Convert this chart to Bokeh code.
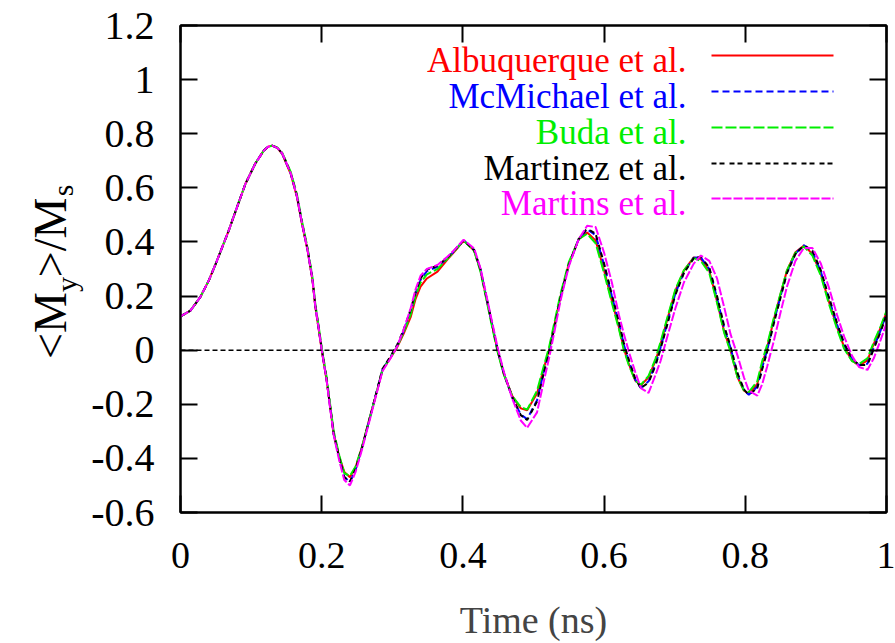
import math
from bokeh.plotting import figure
from bokeh.layouts import row
from bokeh.models import (Range1d, FixedTicker, LinearAxis, Span, Label)
from bokeh.embed import file_html
from bokeh.resources import INLINE

# ---------------- data ----------------
time_ns = [0, 0.014, 0.028, 0.040, 0.050, 0.059, 0.068, 0.080, 0.092, 0.106,
           0.118, 0.124, 0.130, 0.137, 0.144, 0.156, 0.165, 0.172, 0.180, 0.187,
           0.191, 0.196,
           0.200, 0.207, 0.212, 0.217, 0.225, 0.232, 0.240, 0.248, 0.257, 0.267,
           0.276, 0.286, 0.298, 0.307, 0.316, 0.326, 0.333, 0.340, 0.349, 0.364,
           0.378, 0.390, 0.401, 0.416, 0.425, 0.432, 0.439, 0.449, 0.458, 0.470,
           0.482, 0.491, 0.505, 0.515, 0.522, 0.529, 0.538, 0.550, 0.564, 0.576,
           0.588, 0.600, 0.611, 0.621, 0.628, 0.635, 0.644, 0.652, 0.663, 0.673,
           0.680, 0.689, 0.701, 0.713, 0.727, 0.737, 0.749, 0.760, 0.770, 0.779,
           0.789, 0.798, 0.805, 0.817, 0.824, 0.831, 0.840, 0.850, 0.859, 0.871,
           0.883, 0.895, 0.907, 0.918, 0.930, 0.940, 0.951, 0.961, 0.973, 0.982,
           0.992, 1.0]

albuquerque = [0.125, 0.146, 0.196, 0.257, 0.32, 0.38, 0.44, 0.528, 0.615, 0.69,
               0.738, 0.752, 0.756, 0.748, 0.726, 0.652, 0.565, 0.467, 0.368, 0.257,
               0.159, 0.072,
               0.0, -0.112, -0.211, -0.31, -0.396, -0.45, -0.47, -0.433, -0.359, -0.26,
               -0.174, -0.075, -0.026, 0.011, 0.06, 0.122, 0.19, 0.235, 0.265, 0.29,
               0.335, 0.37, 0.405, 0.368, 0.294, 0.208, 0.122, 0.0, -0.088, -0.17,
               -0.215, -0.222, -0.16, -0.063, 0.0, 0.085, 0.196, 0.319, 0.41, 0.435,
               0.405, 0.294, 0.183, 0.085, 0.005, -0.051, -0.112, -0.13, -0.1, -0.038,
               0.023, 0.109, 0.22, 0.294, 0.343, 0.337, 0.294, 0.18, 0.07, 0.0,
               -0.1, -0.149, -0.162, -0.125, -0.051, 0.011, 0.109, 0.208, 0.294, 0.362,
               0.387, 0.356, 0.282, 0.183, 0.085, 0.011, -0.038, -0.057, -0.038, 0.023,
               0.085, 0.14]

mcmichael = [0.125, 0.146, 0.196, 0.257, 0.32, 0.38, 0.44, 0.528, 0.615, 0.69,
             0.738, 0.752, 0.756, 0.748, 0.727, 0.654, 0.568, 0.47, 0.37, 0.26,
             0.162, 0.075,
             0.003, -0.11, -0.21, -0.31, -0.40, -0.468, -0.488, -0.442, -0.362, -0.262,
             -0.172, -0.072, -0.022, 0.016, 0.07, 0.14, 0.21, 0.26, 0.292, 0.308,
             0.34, 0.373, 0.406, 0.37, 0.297, 0.21, 0.124, 0.002, -0.087, -0.175,
             -0.238, -0.255, -0.185, -0.075, -0.008, 0.078, 0.192, 0.317, 0.41, 0.447,
             0.425, 0.315, 0.2, 0.1, 0.02, -0.04, -0.108, -0.14, -0.115, -0.05,
             0.01, 0.095, 0.21, 0.288, 0.342, 0.343, 0.3, 0.192, 0.083, 0.01,
             -0.09, -0.147, -0.165, -0.135, -0.063, 0.0, 0.1, 0.2, 0.288, 0.357,
             0.388, 0.365, 0.29, 0.193, 0.095, 0.02, -0.033, -0.056, -0.05, 0.01,
             0.075, 0.135]

buda = [0.125, 0.146, 0.196, 0.257, 0.32, 0.38, 0.44, 0.528, 0.615, 0.69,
        0.738, 0.752, 0.756, 0.749, 0.73, 0.66, 0.575, 0.478, 0.378, 0.268,
        0.17, 0.082,
        0.01, -0.1, -0.2, -0.3, -0.39, -0.455, -0.465, -0.43, -0.358, -0.26,
        -0.173, -0.073, -0.024, 0.014, 0.065, 0.132, 0.2, 0.25, 0.28, 0.3,
        0.338, 0.372, 0.405, 0.366, 0.29, 0.203, 0.115, -0.005, -0.09, -0.17,
        -0.21, -0.22, -0.15, -0.055, 0.01, 0.095, 0.205, 0.325, 0.41, 0.43,
        0.395, 0.285, 0.175, 0.078, 0.0, -0.055, -0.112, -0.128, -0.095, -0.03,
        0.03, 0.115, 0.225, 0.295, 0.34, 0.33, 0.285, 0.175, 0.065, -0.005,
        -0.1, -0.148, -0.155, -0.115, -0.04, 0.02, 0.115, 0.21, 0.295, 0.36,
        0.383, 0.35, 0.275, 0.175, 0.078, 0.005, -0.04, -0.052, -0.03, 0.03,
        0.09, 0.145]

martinez = [0.125, 0.146, 0.196, 0.257, 0.32, 0.38, 0.44, 0.528, 0.615, 0.69,
            0.738, 0.752, 0.756, 0.748, 0.728, 0.656, 0.57, 0.472, 0.372, 0.262,
            0.165, 0.078,
            0.005, -0.108, -0.21, -0.31, -0.40, -0.47, -0.485, -0.44, -0.362, -0.262,
            -0.172, -0.07, -0.02, 0.02, 0.075, 0.15, 0.215, 0.265, 0.298, 0.312,
            0.342, 0.375, 0.406, 0.37, 0.298, 0.212, 0.126, 0.004, -0.085, -0.175,
            -0.24, -0.258, -0.19, -0.08, -0.01, 0.075, 0.19, 0.315, 0.41, 0.45,
            0.43, 0.32, 0.205, 0.105, 0.025, -0.035, -0.105, -0.14, -0.12, -0.055,
            0.005, 0.09, 0.205, 0.285, 0.34, 0.345, 0.305, 0.2, 0.09, 0.015,
            -0.085, -0.145, -0.165, -0.14, -0.07, -0.005, 0.095, 0.195, 0.285, 0.355,
            0.388, 0.368, 0.295, 0.2, 0.1, 0.025, -0.03, -0.055, -0.055, 0.005,
            0.07, 0.13]

martins = [0.125, 0.146, 0.196, 0.257, 0.32, 0.38, 0.44, 0.528, 0.615, 0.69,
           0.738, 0.752, 0.756, 0.748, 0.728, 0.655, 0.568, 0.47, 0.37, 0.26,
           0.162, 0.075,
           0.002, -0.112, -0.215, -0.315, -0.41, -0.48, -0.5, -0.45, -0.368, -0.268,
           -0.178, -0.078, -0.028, 0.015, 0.075, 0.155, 0.225, 0.275, 0.3, 0.315,
           0.345, 0.376, 0.408, 0.376, 0.302, 0.218, 0.132, 0.012, -0.08, -0.18,
           -0.26, -0.287, -0.23, -0.11, -0.03, 0.06, 0.18, 0.31, 0.41, 0.46,
           0.455, 0.36, 0.25, 0.13, 0.06, -0.005, -0.08, -0.14, -0.158, -0.09,
           -0.04, 0.045, 0.155, 0.25, 0.32, 0.35, 0.33, 0.265, 0.16, 0.06,
           -0.02, -0.1, -0.15, -0.168, -0.125, -0.06, 0.03, 0.14, 0.235, 0.33,
           0.378, 0.378, 0.32, 0.235, 0.13, 0.05, -0.02, -0.062, -0.073, -0.03,
           0.04, 0.1]

series_names = ["Albuquerque et al.", "McMichael et al.", "Buda et al.",
                "Martinez et al.", "Martins et al."]
series_values = [albuquerque, mcmichael, buda, martinez, martins]

x_ticks = [0, 0.2, 0.4, 0.6, 0.8, 1]
x_tick_labels = ["0", "0.2", "0.4", "0.6", "0.8", "1"]
y_ticks = [-0.6, -0.4, -0.2, 0, 0.2, 0.4, 0.6, 0.8, 1, 1.2]
y_tick_labels = ["-0.6", "-0.4", "-0.2", "0", "0.2", "0.4", "0.6", "0.8", "1", "1.2"]

# y-axis title pieces: <M_y>/M_s
y_title_parts = ["<M", "y", ">/M", "s"]

# ---------------- styling / layout ----------------
colors = ["#ff0000", "#0000ff", "#00ee00", "#000000", "#ff00ff"]
dashes = ["solid", "7 4", "11 3", "5 3 5 5", "9 2"]
SERIF = "Liberation Serif"

W, H = 895, 643
LW = 86                               # width of the strip holding the y title
FL, FR, FT, FB = 180, 886, 25, 512    # frame edges in page pixels
X0, X1, Y0, Y1 = 0.0, 1.0, -0.6, 1.2


def cx(px):
    return X0 + (px - FL) / (FR - FL) * (X1 - X0)


def cy(py):
    return Y1 - (py - FT) / (FB - FT) * (Y1 - Y0)


p = figure(width=W - LW, height=H, output_backend="svg", toolbar_location=None,
           title=None,
           x_range=Range1d(X0, X1), y_range=Range1d(Y0, Y1),
           min_border_left=FL - LW, min_border_right=W - FR,
           min_border_top=FT, min_border_bottom=H - FB,
           x_axis_type=None, y_axis_type=None)
p.grid.visible = False
p.outline_line_color = "black"
p.outline_line_width = 2
p.background_fill_color = "white"
p.border_fill_color = "white"


def make_axis(ticks, labels, show_labels, font_size, standoff):
    ax = LinearAxis(ticker=FixedTicker(ticks=ticks))
    ax.major_label_overrides = {t: l for t, l in zip(ticks, labels)}
    ax.major_tick_in = 17
    ax.major_tick_out = 0
    ax.minor_tick_line_color = None
    ax.major_tick_line_width = 2
    ax.axis_line_width = 2
    ax.axis_line_color = "black"
    ax.major_tick_line_color = "black"
    ax.major_label_text_font = SERIF
    ax.major_label_text_color = "black"
    ax.major_label_standoff = standoff
    if show_labels:
        ax.major_label_text_font_size = font_size
    else:
        ax.major_label_text_font_size = "0px"
        ax.major_label_standoff = 0
    return ax


xb = make_axis(x_ticks, x_tick_labels, True, "38px", 30)
xb.axis_label = "Time (ns)"
xb.axis_label_text_font = SERIF
xb.axis_label_text_font_style = "normal"
xb.axis_label_text_font_size = "38px"
xb.axis_label_standoff = 28
p.add_layout(xb, "below")

yl = make_axis(y_ticks, y_tick_labels, True, "40px", 26)
p.add_layout(yl, "left")

p.add_layout(make_axis(x_ticks, x_tick_labels, False, "0px", 0), "above")
p.add_layout(make_axis(y_ticks, y_tick_labels, False, "0px", 0), "right")

# zero line
p.add_layout(Span(location=0, dimension="width", line_color="black",
                  line_width=1.5, line_dash="5 3"))

# curves
for vals, col, dash in zip(series_values, colors, dashes):
    n = min(len(time_ns), len(vals))
    p.line(time_ns[:n], vals[:n], line_color=col, line_width=2, line_dash=dash)

# legend (gnuplot style: label on the left, sample on the right)
leg_rows_px = [55, 91, 127, 163, 198]
for name, col, dash, ry in zip(series_names, colors, dashes, leg_rows_px):
    p.line([cx(711), cx(833)], [cy(ry), cy(ry)], line_color=col,
           line_width=2, line_dash=dash)
    p.add_layout(Label(x=cx(686), y=cy(ry + 5), text=name,
                       text_align="right", text_baseline="middle",
                       text_font=SERIF, text_font_size="35px",
                       text_color=col))

# ---------------- y title strip (rotated text, canvas pixels) ----------------
q = figure(width=LW, height=H, output_backend="svg", toolbar_location=None,
           title=None,
           x_range=Range1d(0, LW), y_range=Range1d(0, H),
           min_border=0, x_axis_type=None, y_axis_type=None)
q.grid.visible = False
q.outline_line_color = None
q.background_fill_color = "white"
q.border_fill_color = "white"

# centre of each piece, in page pixels from the top-left corner
part_pos = [(50, 325), (66, 284), (50, 237), (62, 190)]
part_size = ["46px", "30px", "46px", "30px"]
for txt, (bx, by), fs in zip(y_title_parts, part_pos, part_size):
    q.add_layout(Label(x=bx, y=by, x_units="canvas", y_units="canvas",
                       text=txt, angle=math.pi / 2,
                       text_align="center", text_baseline="middle",
                       text_font=SERIF, text_font_size=fs,
                       text_color="black"))

layout = row(q, p, spacing=0)
open("out.html", "w").write(file_html(layout, INLINE))
